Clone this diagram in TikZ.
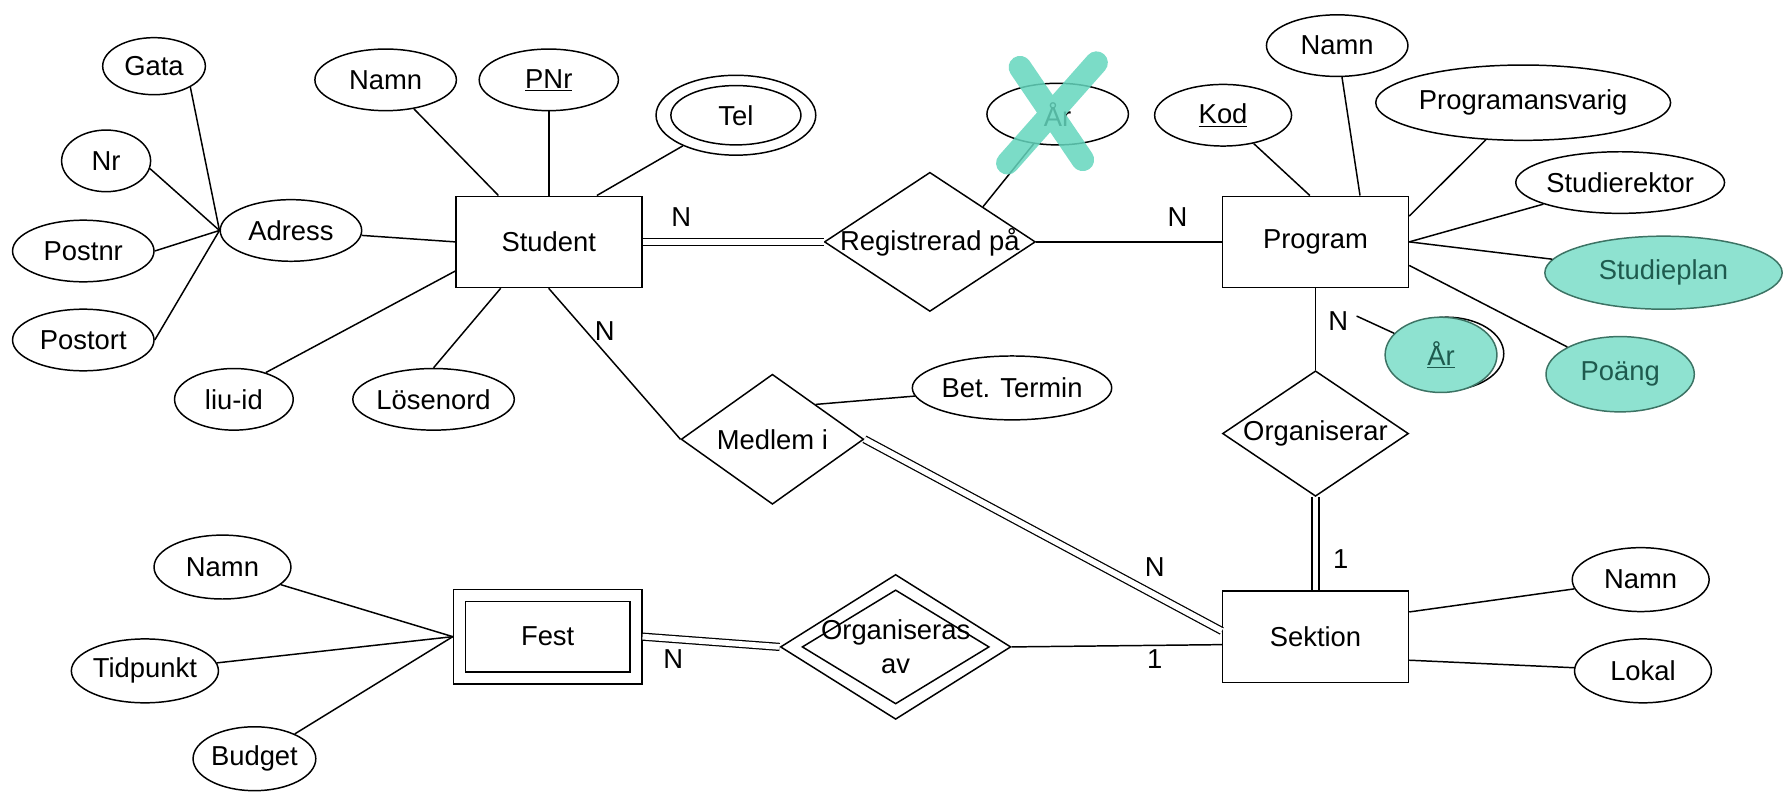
\documentclass[tikz,border=0pt]{standalone}
\usepackage{fontspec}
\setmainfont{Liberation Sans}
\usetikzlibrary{shapes.geometric,calc}
\definecolor{tealfill}{RGB}{142,226,208}
\definecolor{tealline}{RGB}{60,115,100}
\definecolor{tealtext}{RGB}{30,90,78}
\definecolor{xcol}{RGB}{100,214,190}
\begin{document}
\begin{tikzpicture}[x=1pt,y=-1pt,
  every node/.style={font=\fontsize{24}{30}\selectfont},
  ln/.style={line width=1.3pt},
  dbl/.style={line width=1.1pt, double, double distance=5pt},
  ent/.style={draw, line width=1.3pt, rectangle, minimum width=163pt, minimum height=80pt, inner sep=0pt},
  attr/.style={draw, ellipse, line width=1.3pt, inner sep=0pt},
  rel/.style={draw, diamond, line width=1.3pt, inner sep=0pt},
  hl/.style={attr, fill=tealfill, draw=tealline, text=tealtext},
  xmark/.style={draw=xcol, line width=20pt, line cap=round, opacity=0.85}
]
\fill[white] (0,0) rectangle (1568,695);
\useasboundingbox (0,0) rectangle (1568,695);

% Student and attributes
\node[ent] (stud) at (481,212) {Student};
\node[attr, minimum width=90pt, minimum height=50pt] (gata) at (135,58) {Gata};
\node[attr, minimum width=78pt, minimum height=54pt] (nr) at (93,141) {Nr};
\node[attr, minimum width=124pt, minimum height=54pt] (postnr) at (73,220) {Postnr};
\node[attr, minimum width=124pt, minimum height=54pt] (postort) at (73,298) {Postort};
\node[attr, minimum width=124pt, minimum height=54pt] (adress) at (255,202) {Adress};
\node[attr, minimum width=124pt, minimum height=54pt] (snamn) at (338,70) {Namn};
\node[attr, minimum width=122pt, minimum height=54pt] (pnr) at (481,70) {\underline{PNr}};
\node[attr, minimum width=140pt, minimum height=70pt] (tel) at (645,101) {};
\node[attr, minimum width=114pt, minimum height=52pt] (telin) at (tel) {Tel};
\node[attr, minimum width=104pt, minimum height=54pt] (liuid) at (205,350) {liu-id};
\node[attr, minimum width=124pt, minimum height=54pt] (losen) at (380,350) {Lösenord};

% Registrerad på
\node[rel, minimum width=185pt, minimum height=122pt] (reg) at (815,212) {};
\node (regt) at (reg) {Registrerad på};
\node[attr, minimum width=124pt, minimum height=54pt] (arx) at (927,100) {År};

% Program and attributes
\node[ent] (prog) at (1153,212) {Program};
\node[attr, minimum width=120pt, minimum height=54pt] (kod) at (1072,101) {\underline{Kod}};
\node[attr, minimum width=124pt, minimum height=54pt] (pnamn) at (1172,40) {Namn};
\node[attr, minimum width=244pt, minimum height=66pt] (pansv) at (1335,90) {Programansvarig};
\node[attr, minimum width=164pt, minimum height=54pt] (srekt) at (1420,160) {Studierektor};
\node[hl, minimum width=208pt, minimum height=64pt] (splan) at (1458,239) {Studieplan};
\node[hl, minimum width=130pt, minimum height=66pt] (poang) at (1420,328) {Poäng};
\node[attr, minimum width=100pt, minimum height=64pt] (ar2o) at (1268,310) {};
\node[hl, minimum width=98pt, minimum height=66pt] (ar2) at (1263,311) {\underline{År}};

% Organiserar
\node[rel, minimum width=163pt, minimum height=110pt] (org) at (1153,380) {};
\node (orgt) at (org) {Organiserar};

% Sektion
\node[ent] (sek) at (1153,558) {Sektion};
\node[attr, minimum width=120pt, minimum height=56pt] (snamn2) at (1438,508) {Namn};
\node[attr, minimum width=120pt, minimum height=56pt] (lokal) at (1440,588) {Lokal};

% Medlem i
\node[rel, minimum width=160pt, minimum height=114pt] (medl) at (677,385) {};
\node (medlt) at (medl) {Medlem i};
\node[attr, minimum width=160pt, minimum height=56pt] (bet) at (887,340) {Bet. Termin};

% Fest
\node[ent, minimum width=165pt, minimum height=83pt] (fest) at (480,558) {};
\node[ent, minimum width=144pt, minimum height=62pt] (festin) at (fest) {Fest};
\node[attr, minimum width=120pt, minimum height=56pt] (fnamn) at (195,497) {Namn};
\node[attr, minimum width=110pt, minimum height=56pt] (tid) at (127,588) {Tidpunkt};
\node[attr, minimum width=104pt, minimum height=56pt] (budget) at (223,665) {Budget};

% Organiseras av
\node[rel, minimum width=202pt, minimum height=127pt] (orgav) at (785,567) {};
\node[rel, minimum width=164pt, minimum height=100pt] (orgavin) at (orgav) {};
\node[align=center] (orgavt) at (orgav) {Organiseras\\av};

% Cardinalities
\node (c1) at (597,190) {N};
\node (c2) at (1032,190) {N};
\node (c3) at (530,290) {N};
\node (c4) at (1173,281) {N};
\node (c5) at (1175,490) {1};
\node (c6) at (1012,497) {N};
\node (c7) at (590,578) {N};
\node (c8) at (1012,578) {1};

% Connectors
\draw[ln] (gata.-30) -- (adress.west);
\draw[ln] (nr.-10) -- (adress.west);
\draw[ln] (postnr.east) -- (adress.west);
\draw[ln] (postort.east) -- (adress.west);
\draw[ln] (adress) -- (stud.west);
\draw[ln] (snamn) -- ($(stud.north west)+(38,0)$);
\draw[ln] (pnr) -- (stud);
\draw[ln] (tel) -- ($(stud.north east)+(-40,0)$);
\draw[ln] (liuid.40) -- ($(stud.south west)+(0,-15)$);
\draw[ln] (losen.north) -- ($(stud.south west)+(40,0)$);
\draw[dbl] (stud.east) -- (reg.west);
\draw[ln] (reg.east) -- (prog.west);
\draw[ln] (arx) -- ($(reg.north)!0.5!(reg.east)$);
\draw[ln] ($(stud.south west)+(82,0)$) -- (medl.west);
\draw[ln] (bet) -- ($(medl.north)!0.47!(medl.east)$);
\draw[dbl] (medl.east) -- ($(sek.west)+(0,-5)$);
\draw[ln] (kod) -- ($(prog.north)+(-5,0)$);
\draw[ln] (pnamn) -- ($(prog.north)+(39,0)$);
\draw[ln] (pansv) -- ($(prog.north east)+(0,18)$);
\draw[ln] (srekt) -- (prog.east);
\draw[ln] (splan) -- (prog.east);
\draw[ln] (poang) -- ($(prog.south east)+(0,-20)$);
\coordinate (arstart) at (1189,277);
\draw[ln] (arstart) -- (ar2);
\draw[ln] (prog.south) -- (org.north);
\draw[dbl] (org.south) -- (sek.north);
\draw[ln] (snamn2) -- ($(sek.north east)+(0,19)$);
\draw[ln] (lokal) -- ($(sek.south east)+(0,-20)$);
\draw[ln] (fnamn) -- (fest.west);
\draw[ln] (tid) -- (fest.west);
\draw[ln] (budget) -- (fest.west);
\draw[dbl] (fest.east) -- (orgav.west);
\draw[ln] (orgav.east) -- ($(sek.west)+(0,7)$);

% Cross-out mark
\draw[xmark] (894,59) -- (949,140) (961,55) -- (883,143);
\end{tikzpicture}
\end{document}
